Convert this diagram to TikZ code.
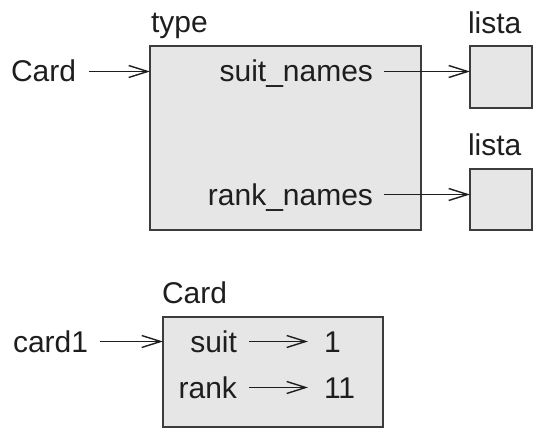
\documentclass[tikz,border=0pt]{standalone}
\usepackage{fontspec}
\setmainfont{Liberation Sans}
\usetikzlibrary{arrows.meta}
\definecolor{boxfill}{HTML}{E6E6E6}
\definecolor{ink}{HTML}{1E1E1E}
\definecolor{edge}{HTML}{3C3C3C}
\tikzset{
  lbl/.style={inner sep=0pt, outer sep=0pt, text height=21pt, text depth=0pt, text=ink, font=\fontsize{30}{34}\selectfont},
  frame/.style={draw=edge, fill=boxfill, line width=1.6pt, inner sep=0pt, outer sep=0pt},
  arr/.style={draw=ink, line width=1.4pt, -{Straight Barb[length=19pt,width=12pt,line width=1.4pt]}}
}
\begin{document}
\begin{tikzpicture}[x=1pt,y=1pt]
\useasboundingbox (0,0) rectangle (539,-428);
% boxes
\node[frame, minimum width=271pt, minimum height=184pt] (typebox) at (285.5,-138) {};
\node[frame, minimum width=62pt, minimum height=62pt] (list1) at (501,-77) {};
\node[frame, minimum width=62pt, minimum height=61pt] (list2) at (501,-199.5) {};
\node[frame, minimum width=220pt, minimum height=110pt] (cardbox) at (273,-372) {};
% labels
\node[lbl, anchor=base west] (typelbl) at (151,-33) {type};
\node[lbl, anchor=base west] (listalbl1) at (468,-34) {lista};
\node[lbl, anchor=base west] (listalbl2) at (468,-155) {lista};
\node[lbl, anchor=base west] (cardlbl) at (11,-82) {Card};
\node[lbl, anchor=base east] (snlbl) at (373,-82) {suit\_names};
\node[lbl, anchor=base east] (rnlbl) at (373,-205) {rank\_names};
\node[lbl, anchor=base west] (cardtype) at (162,-303) {Card};
\node[lbl, anchor=base west] (card1lbl) at (13,-352) {card1};
\node[lbl, anchor=base east] (suitlbl) at (237,-352) {suit};
\node[lbl, anchor=base east] (ranklbl) at (237,-398) {rank};
\node[lbl, anchor=base west] (one) at (324,-352) {1};
\node[lbl, anchor=base west] (eleven) at (324,-398) {11};
% arrows
\draw[arr] ([xshift=13pt]cardlbl.east) -- (cardlbl.east -| typebox.west);
\draw[arr] ([xshift=11pt]snlbl.east) -- (snlbl.east -| list1.west);
\draw[arr] ([xshift=11pt]rnlbl.east) -- (rnlbl.east -| list2.west);
\draw[arr] ([xshift=12pt]card1lbl.east) -- (card1lbl.east -| cardbox.west);
\draw[arr] ([xshift=12pt]suitlbl.east) -- ([xshift=-16pt]one.west);
\draw[arr] ([xshift=12pt]ranklbl.east) -- ([xshift=-16pt]eleven.west);
\end{tikzpicture}
\end{document}
